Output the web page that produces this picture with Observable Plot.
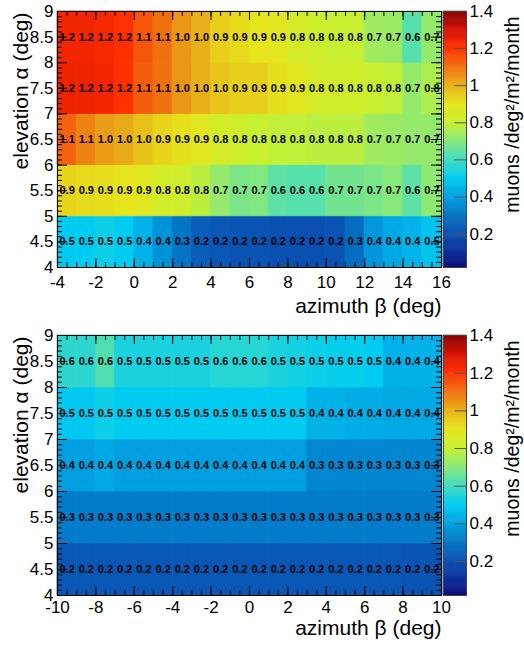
<!DOCTYPE html>
<html><head><meta charset="utf-8">
<script src="https://cdn.jsdelivr.net/npm/d3@7"></script>
<script src="https://cdn.jsdelivr.net/npm/@observablehq/plot@0.6"></script>
<style>
body{margin:0;background:#fff;font-family:"Liberation Sans",Arial,sans-serif;}
.panel{position:relative;width:524px;}
.panel svg{position:absolute;left:0;top:0;}
</style></head>
<body>
<div id="p1" class="panel" style="height:322px"></div>
<div id="p2" class="panel" style="height:326px"></div>
<script>
// ---------- data ----------
const elevation = [4.5, 5.5, 6.5, 7.5, 8.5];
const yTickLabels = [4, 4.5, 5, 5.5, 6, 6.5, 7, 7.5, 8, 8.5, 9];

// top panel: azimuth bin centres (deg)
const topAzimuth = [-3.5,-2.5,-1.5,-0.5,0.5,1.5,2.5,3.5,4.5,5.5,6.5,7.5,8.5,9.5,10.5,11.5,12.5,13.5,14.5,15.5];
const topXTicks = [-4,-2,0,2,4,6,8,10,12,14,16];
const top_el45 = [0.50,0.50,0.52,0.50,0.44,0.37,0.30,0.24,0.22,0.21,0.21,0.20,0.20,0.20,0.21,0.28,0.38,0.42,0.44,0.48];
const top_el55 = [0.93,0.92,0.91,0.90,0.88,0.84,0.82,0.78,0.72,0.68,0.69,0.64,0.63,0.63,0.67,0.67,0.68,0.70,0.64,0.71];
const top_el65 = [1.12,1.07,1.03,1.01,0.97,0.93,0.91,0.88,0.84,0.82,0.80,0.79,0.79,0.78,0.78,0.78,0.74,0.73,0.72,0.72];
const top_el75 = [1.24,1.24,1.23,1.20,1.13,1.10,1.04,1.00,0.96,0.94,0.94,0.91,0.88,0.84,0.83,0.82,0.80,0.79,0.72,0.76];
const top_el85 = [1.23,1.23,1.22,1.20,1.14,1.10,1.04,1.00,0.94,0.92,0.90,0.88,0.84,0.82,0.80,0.80,0.74,0.73,0.63,0.72];

// bottom panel
const botAzimuth = [-9.5,-8.5,-7.5,-6.5,-5.5,-4.5,-3.5,-2.5,-1.5,-0.5,0.5,1.5,2.5,3.5,4.5,5.5,6.5,7.5,8.5,9.5];
const botXTicks = [-10,-8,-6,-4,-2,0,2,4,6,8,10];
const bot_el45 = [0.22,0.22,0.22,0.22,0.22,0.22,0.22,0.22,0.22,0.22,0.22,0.22,0.22,0.22,0.22,0.22,0.22,0.22,0.21,0.21];
const bot_el55 = [0.32,0.32,0.32,0.32,0.32,0.32,0.32,0.32,0.32,0.32,0.32,0.32,0.32,0.32,0.32,0.32,0.32,0.32,0.32,0.32];
const bot_el65 = [0.40,0.40,0.42,0.40,0.40,0.40,0.40,0.40,0.40,0.40,0.40,0.40,0.40,0.34,0.34,0.34,0.34,0.34,0.34,0.34];
const bot_el75 = [0.49,0.49,0.52,0.50,0.50,0.50,0.50,0.50,0.50,0.50,0.50,0.50,0.50,0.44,0.44,0.43,0.43,0.42,0.42,0.42];
const bot_el85 = [0.57,0.57,0.62,0.54,0.54,0.54,0.54,0.54,0.56,0.56,0.56,0.54,0.53,0.52,0.51,0.51,0.50,0.44,0.44,0.44];

// colour bar
const zTicks = [0.2, 0.4, 0.6, 0.8, 1, 1.2, 1.4];
const zDomain = [0.02, 1.4];
const paletteStops  = [0.02, 0.1, 0.2, 0.3, 0.4, 0.5, 0.6, 0.7, 0.8, 0.9, 1.0, 1.1, 1.2, 1.3, 1.4];
const paletteColors = ["#0a0a7a","#0a2c98","#0a50b0","#0474c4","#00a0e0","#00ccf2","#40dcc0","#88e87a","#c8f030","#e6e41c","#e8b018","#f07010","#ff3000","#d41000","#800000"];

const xTitle = "azimuth \u03b2 (deg)";
const yTitle = "elevation \u03b1 (deg)";
const zTitle = "muons /deg\u00b2/m\u00b2/month";

// ---------- drawing ----------
const FONT = "'Liberation Sans', Arial, Helvetica, sans-serif";
const W = 524, mL = 57, mR = 83;
const colorScale = {type: "linear", domain: paletteStops, range: paletteColors, clamp: true};

function panel(el, {azimuth, rows, xTicks, height, marginTop, marginBottom, labelPad, titleDy}) {
  const xDomain = [xTicks[0], xTicks[xTicks.length - 1]];
  const plotW = W - mL - mR, plotH = height - marginTop - marginBottom;
  const ppuX = plotW / (xDomain[1] - xDomain[0]);
  const ppuY = plotH / 5;
  const cells = [];
  elevation.forEach((e, i) => rows[i].forEach((v, j) => cells.push({az: azimuth[j], el: e, v})));
  const xMinor = d3.range(xDomain[0], xDomain[1] + 1e-9, 0.5);
  const yMinor = d3.range(4, 9 + 1e-9, 0.1);
  const tk = (px, ppu) => px / ppu;

  const main = Plot.plot({
    width: W, height, marginLeft: mL, marginRight: mR, marginTop, marginBottom,
    style: {fontFamily: FONT, background: "transparent", color: "black"},
    x: {domain: xDomain, axis: null},
    y: {domain: [4, 9], axis: null},
    color: colorScale,
    marks: [
      Plot.rect(cells, {x1: d => d.az - 0.5, x2: d => d.az + 0.5, y1: d => d.el - 0.5, y2: d => d.el + 0.5,
        fill: "v", stroke: "v", strokeWidth: 0.8}),
      Plot.text(cells, {x: "az", y: "el", text: d => d3.format(".1f")(d.v),
        fontSize: 11, fontWeight: "bold", fill: "black"}),
      Plot.frame({stroke: "black", strokeWidth: 1}),
      // ticks pointing inward (ROOT style) on all four sides
      Plot.ruleX(xTicks, {x: d => d, y1: 4, y2: 4 + tk(9, ppuY), stroke: "black"}),
      Plot.ruleX(xMinor, {x: d => d, y1: 4, y2: 4 + tk(5, ppuY), stroke: "black"}),
      Plot.ruleX(xTicks, {x: d => d, y1: 9 - tk(9, ppuY), y2: 9, stroke: "black"}),
      Plot.ruleX(xMinor, {x: d => d, y1: 9 - tk(5, ppuY), y2: 9, stroke: "black"}),
      Plot.ruleY(yTickLabels, {y: d => d, x1: xDomain[0], x2: xDomain[0] + tk(10, ppuX), stroke: "black"}),
      Plot.ruleY(yMinor, {y: d => d, x1: xDomain[0], x2: xDomain[0] + tk(5, ppuX), stroke: "black"}),
      Plot.ruleY(yTickLabels, {y: d => d, x1: xDomain[1] - tk(10, ppuX), x2: xDomain[1], stroke: "black"}),
      Plot.ruleY(yMinor, {y: d => d, x1: xDomain[1] - tk(5, ppuX), x2: xDomain[1], stroke: "black"}),
      Plot.axisX(xTicks, {anchor: "bottom", tickSize: 0, tickPadding: labelPad, fontSize: 17,
        tickFormat: d => String(d), label: null}),
      Plot.axisY(yTickLabels, {anchor: "left", tickSize: 0, tickPadding: 4, fontSize: 17,
        tickFormat: d => String(d), label: null}),
      Plot.text([xTitle], {frameAnchor: "bottom-right", textAnchor: "end", lineAnchor: "bottom",
        dy: titleDy, fontSize: 21}),
      Plot.text([yTitle], {frameAnchor: "top-left", textAnchor: "end", lineAnchor: "middle",
        rotate: -90, dx: -36, dy: 1, fontSize: 21})
    ]
  });

  const bar = Plot.plot({
    width: W, height, marginLeft: 443, marginRight: 58, marginTop, marginBottom,
    style: {fontFamily: FONT, background: "transparent", color: "black"},
    x: {domain: [0, 1], axis: null},
    y: {domain: zDomain, axis: null},
    color: colorScale,
    marks: [
      Plot.rect(d3.range(zDomain[0], zDomain[1] - 0.004, 0.005), {x1: 0, x2: 1, y1: d => d, y2: d => d + 0.005,
        fill: d => d, stroke: d => d, strokeWidth: 0.6}),
      Plot.ruleY(zTicks, {y: d => d, x1: 0.5, x2: 1, stroke: "#555"}),
      Plot.frame({stroke: "#444"}),
      Plot.axisY(zTicks, {anchor: "right", tickSize: 0, tickPadding: 3, fontSize: 17,
        tickFormat: d => String(d), label: null}),
      Plot.text([zTitle], {frameAnchor: "top-right", textAnchor: "end", lineAnchor: "middle",
        rotate: -90, dx: 46, dy: 5, fontSize: 19.5})
    ]
  });
  el.append(main, bar);
}

panel(document.getElementById("p1"), {
  azimuth: topAzimuth, rows: [top_el45, top_el55, top_el65, top_el75, top_el85],
  xTicks: topXTicks, height: 322, marginTop: 11, marginBottom: 55, labelPad: 8, titleDy: 45
});
panel(document.getElementById("p2"), {
  azimuth: botAzimuth, rows: [bot_el45, bot_el55, bot_el65, bot_el75, bot_el85],
  xTicks: botXTicks, height: 326, marginTop: 13, marginBottom: 53, labelPad: 5, titleDy: 39
});
</script>
</body></html>
